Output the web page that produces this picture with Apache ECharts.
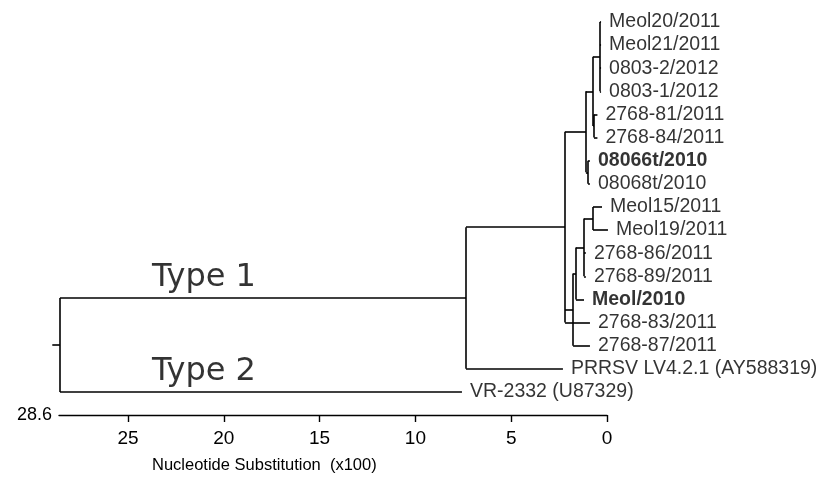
<!DOCTYPE html>
<html><head><meta charset="utf-8">
<script src="https://cdn.jsdelivr.net/npm/echarts@6/dist/echarts.min.js"></script>
<style>html,body{margin:0;padding:0;background:#fff}#c{width:825px;height:478px}</style>
</head><body><div id="c"></div>
<script>
// Tips (top to bottom)
const tipNames = ['Meol20/2011','Meol21/2011','0803-2/2012','0803-1/2012','2768-81/2011','2768-84/2011',
  '08066t/2010','08068t/2010','Meol15/2011','Meol19/2011','2768-86/2011','2768-89/2011','Meol/2010',
  '2768-83/2011','2768-87/2011','PRRSV LV4.2.1 (AY588319)','VR-2332 (U87329)'];
const tipBold = [0,0,0,0,0,0,1,0,0,0,0,0,1,0,0,0,0];
// tip positions on the substitution axis (x100)
const tipDist = [0.31,0.31,0.31,0.31,0.50,0.50,0.89,0.89,0.26,-0.05,1.10,1.10,1.20,0.89,0.89,2.30,7.57];
// internal nodes
const nodeNames = ['A2','A3','A1','A4','A','H','F','E','D','C','T1','root'];
const nodeDist  = [0.37,0.68,0.73,0.99,1.10,0.73,1.20,1.62,1.77,2.19,7.36,28.55];
const nodeChildren = [
  ['Meol20/2011','Meol21/2011','0803-2/2012','0803-1/2012'],
  ['2768-81/2011','2768-84/2011'],
  ['A2','A3'],
  ['08066t/2010','08068t/2010'],
  ['A1','A4'],
  ['Meol15/2011','Meol19/2011'],
  ['H','2768-86/2011','2768-89/2011'],
  ['F','Meol/2010'],
  ['E','2768-87/2011'],
  ['A','D','2768-83/2011'],
  ['C','PRRSV LV4.2.1 (AY588319)'],
  ['T1','VR-2332 (U87329)']
];
const rootStubDist = 28.95;
// clade labels
const cladeLabels = ['Type 1','Type 2'];
const cladeLabelDist = [23.75, 23.75];
const cladeLabelBranch = ['T1','VR-2332 (U87329)'];
// axis
const axisMax = 28.6;
const tickValues = [0,5,10,15,20,25];
const axisTitle = 'Nucleotide Substitution  (x100)';

// ---- build tree geometry in data units ----
const pos = {};
tipNames.forEach((n,i)=>{ pos[n] = {x: tipDist[i], y: i}; });
nodeNames.forEach((n,i)=>{
  const ch = nodeChildren[i].map(c=>pos[c]);
  pos[n] = {x: nodeDist[i], y: (ch[0].y + ch[ch.length-1].y)/2};
});
const segs = [];
nodeNames.forEach((n,i)=>{
  const p = pos[n];
  const ch = nodeChildren[i].map(c=>pos[c]);
  segs.push({coords: [[p.x, ch[0].y],[p.x, ch[ch.length-1].y]]});
  ch.forEach(c=>segs.push({coords: [[p.x, c.y],[c.x, c.y]]}));
});
const r = pos['root'];
segs.push({coords: [[rootStubDist, r.y],[r.x, r.y]]});

const tipData = tipNames.map((n,i)=>({
  value: [tipDist[i], i], name: n,
  label: {fontWeight: tipBold[i] ? 'bold' : 'normal'}
}));
const cladeData = cladeLabels.map((t,i)=>({value: [cladeLabelDist[i], pos[cladeLabelBranch[i]].y], name: t}));

const chart = echarts.init(document.getElementById('c'));
chart.setOption({
  animation: false,
  backgroundColor: '#fff',
  title: {text: axisTitle, left: 152, top: 457, padding: 0,
    textStyle: {fontSize: 16.5, fontWeight: 'normal', color: '#000', fontFamily: 'Liberation Sans'}},
  grid: {left: 59, right: 218, top: 22, bottom: 63, containLabel: false},
  xAxis: {
    type: 'value', inverse: true, min: 0, max: axisMax, interval: 5,
    axisLine: {show: true, onZero: false, lineStyle: {color: '#000', width: 1.4}},
    axisTick: {show: true, length: 7, customValues: tickValues, lineStyle: {color: '#000', width: 1.4}},
    axisLabel: {customValues: tickValues, color: '#000', fontSize: 19, margin: 14, fontFamily: 'Liberation Sans'},
    splitLine: {show: false},
    name: String(axisMax), nameLocation: 'end', nameGap: 7,
    nameTextStyle: {color: '#000', fontSize: 18, fontFamily: 'Liberation Sans', verticalAlign: 'middle'}
  },
  yAxis: {type: 'value', inverse: true, min: 0, max: 17, show: false},
  series: [
    {type: 'lines', coordinateSystem: 'cartesian2d', polyline: false, clip: false, silent: true,
     lineStyle: {color: '#000', width: 1.6, opacity: 1}, data: segs},
    {type: 'scatter', symbolSize: 0, clip: false, silent: true, data: tipData,
     label: {show: true, position: 'right', distance: 8, formatter: '{b}', color: '#000',
       fontSize: 19.5, fontFamily: 'Liberation Sans'}},
    {type: 'scatter', symbolSize: 0, clip: false, silent: true, data: cladeData,
     label: {show: true, position: [0, 0], align: 'left', verticalAlign: 'bottom', offset: [0, -4],
       formatter: '{b}', color: '#000', fontSize: 32, fontFamily: 'DejaVu Sans'}}
  ]
});
</script></body></html>
